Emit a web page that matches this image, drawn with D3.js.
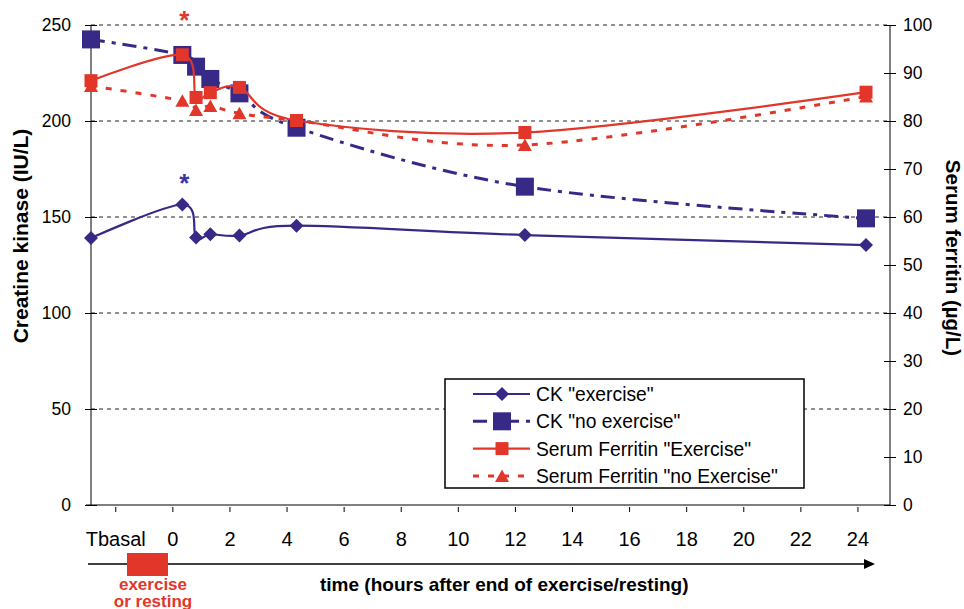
<!DOCTYPE html>
<html>
<head>
<meta charset="utf-8">
<script src="https://cdn.jsdelivr.net/npm/d3@7/dist/d3.min.js"></script>
<style>
  body { margin: 0; background: #fff; }
  svg { display: block; font-family: "Liberation Sans", Arial, Helvetica, sans-serif; }
</style>
</head>
<body>
<svg id="chart" width="964" height="609"></svg>
<script>
// sample times in hours after end of exercise (Tbasal drawn at left edge)
const sampleTimes = [-2.85, 0.35, 0.83, 1.33, 2.35, 4.35, 12.35, 24.3];
const ckExercise = [139, 156.5, 139.3, 141, 140.3, 145.5, 140.6, 135.4];
const ckNoExercise = [242.5, 234.4, 228.3, 221.9, 214.4, 196.5, 165.8, 149.3];
const ferritinExercise = [88.4, 93.8, 84.9, 85.9, 87.0, 80.1, 77.6, 86.0];
const ferritinNoExercise = [87.3, 84.2, 82.3, 83.1, 81.6, 80.1, 75.0, 85.1];

const xTickLabels = ["Tbasal", "0", "2", "4", "6", "8", "10", "12", "14", "16", "18", "20", "22", "24"];
const xTickValues = [-2, 0, 2, 4, 6, 8, 10, 12, 14, 16, 18, 20, 22, 24];
const leftTicks = [0, 50, 100, 150, 200, 250];
const rightTicks = [0, 10, 20, 30, 40, 50, 60, 70, 80, 90, 100];

const NAVY = "#372a87";
const RED = "#e2362a";

const svg = d3.select("#chart");
const plot = { left: 91, right: 890, top: 25, bottom: 505 };

const x = d3.scaleLinear().domain([-2.85, 25.14]).range([plot.left, plot.right]);
const yL = d3.scaleLinear().domain([0, 250]).range([plot.bottom, plot.top]);
const yR = d3.scaleLinear().domain([0, 100]).range([plot.bottom, plot.top]);

// gridlines
svg.append("g").selectAll("line")
  .data(leftTicks.filter(d => d > 0))
  .join("line")
  .attr("x1", plot.left).attr("x2", plot.right)
  .attr("y1", d => yL(d)).attr("y2", d => yL(d))
  .attr("stroke", "#222").attr("stroke-width", 1)
  .attr("stroke-dasharray", "4,4");

// left axis
const gl = svg.append("g").attr("transform", `translate(${plot.left},0)`)
  .call(d3.axisLeft(yL).tickValues(leftTicks).tickSize(6).tickPadding(14));
gl.select(".domain").attr("d", `M0,${plot.top}V${plot.bottom}`);
gl.selectAll(".tick line").attr("x1", 6);
gl.selectAll("text").attr("font-size", 17.5).attr("font-family", null);

// right axis
const gr = svg.append("g").attr("transform", `translate(${plot.right},0)`)
  .call(d3.axisRight(yR).tickValues(rightTicks).tickSize(6).tickPadding(7));
gr.select(".domain").attr("d", `M0,${plot.top}V${plot.bottom}`);
gr.selectAll(".tick line").attr("x1", -6);
gr.selectAll("text").attr("font-size", 17.5).attr("font-family", null);

// x axis
svg.append("line")
  .attr("x1", plot.left - 5).attr("x2", plot.right)
  .attr("y1", plot.bottom).attr("y2", plot.bottom)
  .attr("stroke", "#000");
const gx = svg.append("g").attr("transform", `translate(0,${plot.bottom})`)
  .call(d3.axisBottom(x).tickValues(xTickValues).tickFormat((d, i) => xTickLabels[i]).tickSize(7).tickPadding(20));
gx.select(".domain").remove();
gx.selectAll(".tick line").attr("y1", 2);
gx.selectAll("text").attr("font-size", 20).attr("font-family", null);

// axis titles
svg.append("text")
  .attr("transform", "translate(28,236) rotate(-90)")
  .attr("text-anchor", "middle")
  .attr("font-size", 21).attr("font-weight", "bold")
  .text("Creatine kinase (IU/L)");
svg.append("text")
  .attr("transform", "translate(946,258) rotate(90)")
  .attr("text-anchor", "middle")
  .attr("font-size", 20.5).attr("font-weight", "bold")
  .text("Serum ferritin (\u00b5g/L)");

// series
const series = [
  { name: 'CK "exercise"', values: ckExercise, y: yL, color: NAVY, width: 2.2, dash: null, marker: "diamond" },
  { name: 'CK "no exercise"', values: ckNoExercise, y: yL, color: NAVY, width: 3, dash: "14,7,4,7", marker: "bigsquare" },
  { name: 'Serum Ferritin "Exercise"', values: ferritinExercise, y: yR, color: RED, width: 2.2, dash: null, marker: "square" },
  { name: 'Serum Ferritin "no Exercise"', values: ferritinNoExercise, y: yR, color: RED, width: 3, dash: "6,9", marker: "triangle" }
];

const markerPath = {
  diamond: "M0,-7L7,0L0,7L-7,0Z",
  bigsquare: "M-9,-9H9V9H-9Z",
  square: "M-6.5,-6.5H6.5V6.5H-6.5Z",
  triangle: "M0,-6.5L7,6L-7,6Z"
};

const line = d3.line().curve(d3.curveCardinal.tension(0));

series.forEach(s => {
  const pts = sampleTimes.map((t, i) => [x(t), s.y(s.values[i])]);
  svg.append("path")
    .attr("d", line(pts))
    .attr("fill", "none")
    .attr("stroke", s.color)
    .attr("stroke-width", s.width)
    .attr("stroke-dasharray", s.dash);
  svg.append("g").selectAll("path")
    .data(pts)
    .join("path")
    .attr("transform", d => `translate(${d[0]},${d[1]})`)
    .attr("d", markerPath[s.marker])
    .attr("fill", s.color);
});

// significance asterisks
svg.append("text")
  .attr("x", x(sampleTimes[1]) + 2).attr("y", yL(ckExercise[1]) - 13)
  .attr("text-anchor", "middle").attr("font-size", 26).attr("font-weight", "bold")
  .attr("fill", "#3d35a0").text("*");
svg.append("text")
  .attr("x", x(sampleTimes[1]) + 2).attr("y", yR(ferritinExercise[1]) - 26)
  .attr("text-anchor", "middle").attr("font-size", 26).attr("font-weight", "bold")
  .attr("fill", RED).text("*");

// legend
const legend = svg.append("g").attr("transform", "translate(445,379)");
legend.append("rect")
  .attr("width", 359).attr("height", 109)
  .attr("fill", "#fff").attr("stroke", "#000").attr("stroke-width", 1.5);
series.forEach((s, i) => {
  const ly = 15 + i * 27.3;
  legend.append("line")
    .attr("x1", 28).attr("x2", 85).attr("y1", ly).attr("y2", ly)
    .attr("stroke", s.color).attr("stroke-width", s.width)
    .attr("stroke-dasharray", s.dash);
  legend.append("path")
    .attr("transform", `translate(57,${ly})`)
    .attr("d", markerPath[s.marker])
    .attr("fill", s.color);
  legend.append("text")
    .attr("x", 91).attr("y", ly + 7)
    .attr("font-size", 19.3)
    .text(s.name);
});

// time arrow below axis
const arrowY = 564;
svg.append("line")
  .attr("x1", 88).attr("x2", 866).attr("y1", arrowY).attr("y2", arrowY)
  .attr("stroke", "#000").attr("stroke-width", 1.5);
svg.append("path")
  .attr("d", `M864,${arrowY - 5}L875,${arrowY}L864,${arrowY + 5}Z`)
  .attr("fill", "#000");
svg.append("rect")
  .attr("x", 127).attr("y", 553).attr("width", 41).attr("height", 23)
  .attr("fill", RED);
svg.append("text")
  .attr("x", 153).attr("y", 590)
  .attr("text-anchor", "middle").attr("font-size", 17).attr("font-weight", "bold")
  .attr("fill", RED).text("exercise");
svg.append("text")
  .attr("x", 153).attr("y", 607)
  .attr("text-anchor", "middle").attr("font-size", 17).attr("font-weight", "bold")
  .attr("fill", RED).text("or resting");
svg.append("text")
  .attr("x", 320).attr("y", 591)
  .attr("font-size", 19).attr("font-weight", "bold")
  .text("time (hours after end of exercise/resting)");
</script>
</body>
</html>
